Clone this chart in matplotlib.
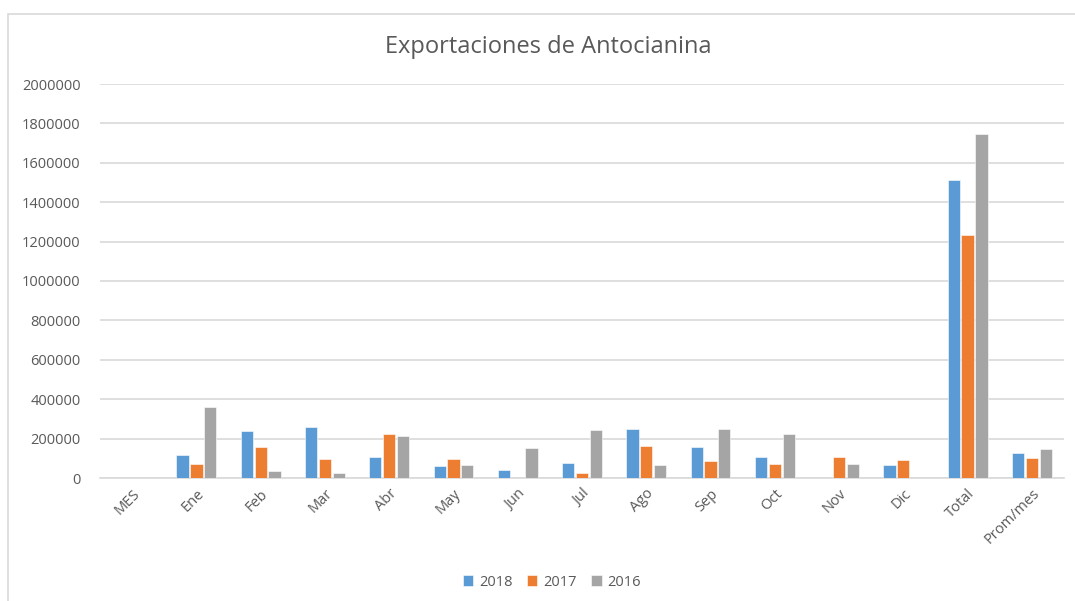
import matplotlib
matplotlib.use("Agg")
import matplotlib.pyplot as plt
import numpy as np
from matplotlib.patches import Rectangle

categories = ["MES", "Ene", "Feb", "Mar", "Abr", "May", "Jun", "Jul", "Ago",
              "Sep", "Oct", "Nov", "Dic", "Total", "Prom/mes"]
series_names = ["2018", "2017", "2016"]
v2018 = [0, 118000, 237000, 259000, 105000, 59000, 41000, 76000, 247000,
         156000, 105000, 0, 64000, 1514000, 125000]
v2017 = [0, 73000, 156000, 97000, 222000, 97000, 0, 27000, 164000,
         86000, 73000, 105000, 91000, 1232000, 103000]
v2016 = [0, 360000, 36000, 27000, 213000, 64000, 151000, 242000, 64000,
         250000, 223000, 69000, 0, 1746000, 145000]
colors = ["#5B9BD5", "#ED7D31", "#A5A5A5"]

plt.rcParams['font.family'] = ['Open Sans', 'DejaVu Sans']
text_color = "#595959"

fig = plt.figure(figsize=(10.75, 6.01), dpi=100)
fig.patch.set_facecolor("white")
fig.patches.append(Rectangle((8/1075, -0.05), 1.1, 1 - 14/601 + 0.05,
                             transform=fig.transFigure, fill=False,
                             edgecolor="#D9D9D9", linewidth=1.2))

ax = fig.add_axes([100/1075, 1 - 478/601, 964/1075, (478 - 84)/601])
x = np.arange(len(categories))
slot = 0.215
width = 0.19
for i, (vals, name, c) in enumerate(zip([v2018, v2017, v2016], series_names, colors)):
    ax.bar(x + (i - 1) * slot, vals, width=width, color=c, label=name,
           edgecolor="white", linewidth=0.4, zorder=3)

ax.set_xlim(-0.5, len(categories) - 0.5)
ax.set_ylim(0, 2000000)
ax.set_yticks(np.arange(0, 2000001, 200000))
ax.set_yticklabels([str(v) for v in range(0, 2000001, 200000)])
ax.grid(axis='y', color="#D9D9D9", linewidth=1.2, zorder=0)
for s in ["top", "right", "left"]:
    ax.spines[s].set_visible(False)
ax.spines["bottom"].set_color("#D9D9D9")
ax.spines["bottom"].set_linewidth(1.2)
ax.tick_params(axis='y', length=0, pad=14, labelsize=10.5, labelcolor=text_color)
ax.tick_params(axis='x', length=0, pad=6, labelsize=10.5, labelcolor=text_color)
ax.set_xticks(x)
ax.set_xticklabels(categories, rotation=45, ha='right', rotation_mode='anchor')

fig.text(548/1075, 1 - 47/601, "Exportaciones de Antocianina", ha='center', va='center',
         fontsize=17, color=text_color)

leg = ax.legend(loc='center', bbox_to_anchor=(552/1075, 1 - 582/601),
                bbox_transform=fig.transFigure, ncol=3, frameon=False,
                handlelength=0.7, handleheight=0.7, handletextpad=0.4,
                columnspacing=1.0, fontsize=10.5)
for t in leg.get_texts():
    t.set_color(text_color)

fig.savefig("out.png", dpi=100, facecolor="white")
